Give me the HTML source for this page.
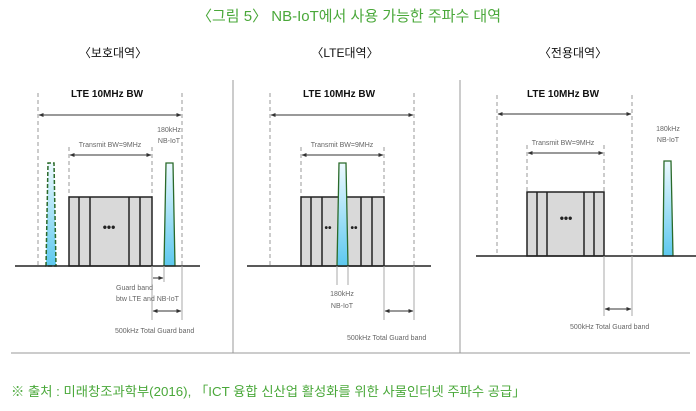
<!DOCTYPE html>
<html><head><meta charset="utf-8"><style>
body{margin:0;background:#fff;width:696px;height:411px;overflow:hidden}
svg{display:block}
.k{font-family:"Liberation Sans","Noto Sans CJK KR",sans-serif}
.s{font-family:"Liberation Sans",sans-serif;font-size:7px;fill:#666}
.h{font-family:"Liberation Sans",sans-serif;font-size:10px;font-weight:bold;fill:#111}
</style></head><body>
<svg width="696" height="411" viewBox="0 0 696 411">
<defs>
<linearGradient id="g" x1="0" y1="0" x2="0" y2="1"><stop offset="0" stop-color="#eefaff"/><stop offset="1" stop-color="#5cc8ee"/></linearGradient>
<marker id="a" viewBox="0 0 10 10" refX="9" refY="5" markerWidth="5" markerHeight="5" orient="auto-start-reverse"><path d="M0,1L10,5L0,9z" fill="#333"/></marker>
</defs>
<text class="k" x="349" y="21" text-anchor="middle" font-size="15" fill="#4aa83a">〈그림 5〉 NB-IoT에서 사용 가능한 주파수 대역</text>
<text class="k" x="113" y="57" text-anchor="middle" font-size="12" fill="#111">〈보호대역〉</text>
<text class="k" x="345" y="57" text-anchor="middle" font-size="12" fill="#111">〈LTE대역〉</text>
<text class="k" x="573" y="57" text-anchor="middle" font-size="12" fill="#111">〈전용대역〉</text>
<g stroke="#999" stroke-width="1">
<line x1="11" y1="353" x2="690" y2="353"/><line x1="233" y1="80" x2="233" y2="353"/><line x1="460" y1="80" x2="460" y2="353"/>
</g>

<g>
<text class="h" x="107" y="97" text-anchor="middle">LTE 10MHz BW</text>
<g stroke="#999" stroke-dasharray="4,3" fill="none"><line x1="38" y1="93" x2="38" y2="266"/><line x1="182" y1="93" x2="182" y2="266"/><line x1="69" y1="147" x2="69" y2="197"/><line x1="152" y1="147" x2="152" y2="197"/></g>
<line x1="39" y1="115" x2="181" y2="115" stroke="#333" marker-start="url(#a)" marker-end="url(#a)"/>
<text class="s" x="110" y="147" text-anchor="middle">Transmit BW=9MHz</text>
<line x1="70" y1="155" x2="151" y2="155" stroke="#333" marker-start="url(#a)" marker-end="url(#a)"/>
<rect x="69" y="197" width="83" height="69" fill="#d9d9d9" stroke="#222" stroke-width="1.5"/>
<g stroke="#222" stroke-width="1.5"><line x1="79" y1="197" x2="79" y2="266"/><line x1="90" y1="197" x2="90" y2="266"/><line x1="129" y1="197" x2="129" y2="266"/><line x1="140" y1="197" x2="140" y2="266"/></g>
<text x="109" y="231" text-anchor="middle" font-size="12" font-weight="bold" fill="#222" font-family="Liberation Sans">•••</text>
<path d="M46,266L48,163L54,163L56,266z" fill="url(#g)" stroke="#2a6a2a" stroke-width="1.5" stroke-dasharray="4,2"/>
<path d="M164,266L166,163L173,163L175,266z" fill="url(#g)" stroke="#2a6a2a" stroke-width="1.3"/>
<text class="s" x="169" y="132" text-anchor="middle">180kHz</text><text class="s" x="169" y="143" text-anchor="middle">NB-IoT</text>
<line x1="15" y1="266" x2="200" y2="266" stroke="#222" stroke-width="1.5"/>
<g stroke="#aaa"><line x1="152" y1="266" x2="152" y2="320"/><line x1="164" y1="266" x2="164" y2="282"/><line x1="182" y1="266" x2="182" y2="320"/></g>
<line x1="153" y1="278" x2="163" y2="278" stroke="#333" marker-end="url(#a)"/>
<text class="s" x="116" y="290">Guard band</text><text class="s" x="116" y="301">btw LTE and NB-IoT</text>
<line x1="153" y1="311" x2="181" y2="311" stroke="#333" marker-start="url(#a)" marker-end="url(#a)"/>
<text class="s" x="115" y="333">500kHz Total Guard band</text>
</g>

<g>
<text class="h" x="339" y="97" text-anchor="middle">LTE 10MHz BW</text>
<g stroke="#999" stroke-dasharray="4,3" fill="none"><line x1="270" y1="93" x2="270" y2="266"/><line x1="414" y1="93" x2="414" y2="266"/><line x1="301" y1="147" x2="301" y2="197"/><line x1="384" y1="147" x2="384" y2="197"/></g>
<line x1="271" y1="115" x2="413" y2="115" stroke="#333" marker-start="url(#a)" marker-end="url(#a)"/>
<text class="s" x="342" y="147" text-anchor="middle">Transmit BW=9MHz</text>
<line x1="302" y1="155" x2="383" y2="155" stroke="#333" marker-start="url(#a)" marker-end="url(#a)"/>
<rect x="301" y="197" width="83" height="69" fill="#d9d9d9" stroke="#222" stroke-width="1.5"/>
<g stroke="#222" stroke-width="1.5"><line x1="311" y1="197" x2="311" y2="266"/><line x1="322" y1="197" x2="322" y2="266"/><line x1="361" y1="197" x2="361" y2="266"/><line x1="372" y1="197" x2="372" y2="266"/></g>
<text x="328" y="231" text-anchor="middle" font-size="10" font-weight="bold" fill="#222" font-family="Liberation Sans">••</text>
<text x="354" y="231" text-anchor="middle" font-size="10" font-weight="bold" fill="#222" font-family="Liberation Sans">••</text>
<path d="M337,266L339,163L346,163L348,266z" fill="url(#g)" stroke="#2a6a2a" stroke-width="1.3"/>
<line x1="247" y1="266" x2="431" y2="266" stroke="#222" stroke-width="1.5"/>
<g stroke="#aaa"><line x1="337" y1="266" x2="337" y2="285"/><line x1="348" y1="266" x2="348" y2="285"/><line x1="384" y1="266" x2="384" y2="320"/><line x1="414" y1="266" x2="414" y2="320"/></g>
<text class="s" x="342" y="296" text-anchor="middle">180kHz</text><text class="s" x="342" y="308" text-anchor="middle">NB-IoT</text>
<line x1="385" y1="311" x2="413" y2="311" stroke="#333" marker-start="url(#a)" marker-end="url(#a)"/>
<text class="s" x="347" y="340">500kHz Total Guard band</text>
</g>

<g>
<text class="h" x="563" y="97" text-anchor="middle">LTE 10MHz BW</text>
<g stroke="#999" stroke-dasharray="4,3" fill="none"><line x1="497" y1="95" x2="497" y2="256"/><line x1="632" y1="95" x2="632" y2="256"/><line x1="527" y1="145" x2="527" y2="192"/><line x1="604" y1="145" x2="604" y2="192"/></g>
<line x1="498" y1="114" x2="631" y2="114" stroke="#333" marker-start="url(#a)" marker-end="url(#a)"/>
<text class="s" x="563" y="145" text-anchor="middle">Transmit BW=9MHz</text>
<line x1="528" y1="153" x2="603" y2="153" stroke="#333" marker-start="url(#a)" marker-end="url(#a)"/>
<rect x="527" y="192" width="77" height="64" fill="#d9d9d9" stroke="#222" stroke-width="1.5"/>
<g stroke="#222" stroke-width="1.5"><line x1="537" y1="192" x2="537" y2="256"/><line x1="547" y1="192" x2="547" y2="256"/><line x1="584" y1="192" x2="584" y2="256"/><line x1="594" y1="192" x2="594" y2="256"/></g>
<text x="566" y="222" text-anchor="middle" font-size="12" font-weight="bold" fill="#222" font-family="Liberation Sans">•••</text>
<path d="M663,256L664,161L671,161L673,256z" fill="url(#g)" stroke="#2a6a2a" stroke-width="1.3"/>
<text class="s" x="668" y="131" text-anchor="middle">180kHz</text><text class="s" x="668" y="142" text-anchor="middle">NB-IoT</text>
<line x1="476" y1="256" x2="696" y2="256" stroke="#222" stroke-width="1.5"/>
<g stroke="#aaa"><line x1="604" y1="256" x2="604" y2="316"/><line x1="632" y1="256" x2="632" y2="316"/></g>
<line x1="605" y1="309" x2="631" y2="309" stroke="#333" marker-start="url(#a)" marker-end="url(#a)"/>
<text class="s" x="570" y="329">500kHz Total Guard band</text>
</g>

<text class="k" x="11" y="396" font-size="13.3" fill="#4aa83a">※ 출처 : 미래창조과학부(2016), 「ICT 융합 신산업 활성화를 위한 사물인터넷 주파수 공급」</text>
</svg>
</body></html>
